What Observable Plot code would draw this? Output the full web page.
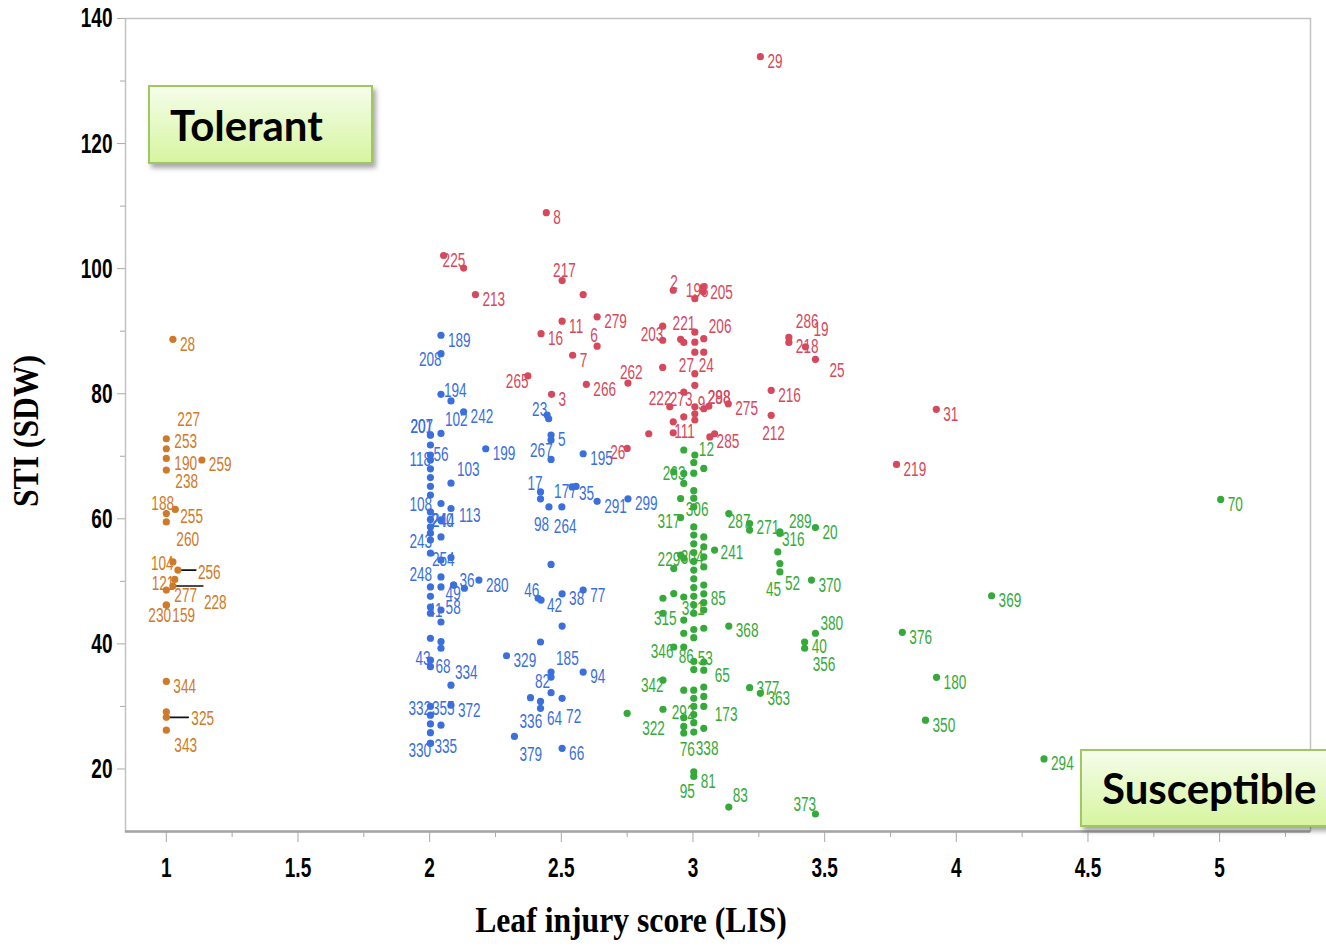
<!DOCTYPE html>
<html>
<head>
<meta charset="utf-8">
<script src="https://cdn.jsdelivr.net/npm/d3@7"></script>
<script src="https://cdn.jsdelivr.net/npm/@observablehq/plot@0.6"></script>
<style>
  html, body { margin: 0; padding: 0; background: #fff; overflow: hidden; }
  #chart { position: relative; width: 1326px; height: 946px; }
  .tag {
    position: absolute; box-sizing: border-box;
    border: 2px solid #a2c661;
    background: linear-gradient(#f5fdea, #d6f5a0);
    box-shadow: 3px 4px 5px rgba(0, 0, 0, 0.35);
    font-family: Lato, "Open Sans", sans-serif; font-weight: 700; font-size: 42px;
    color: #000; display: flex; align-items: center; white-space: nowrap;
  }
</style>
</head>
<body>
<div id="chart"></div>
<script>
// Leaf injury score (LIS) vs. salt tolerance index of shoot dry weight, STI (SDW)

// Cluster 1 (tolerant, LIS ≈ 1)
const tolerantLIS = [1.025, 1.0, 1.0, 1.0, 1.0, 1.135, 1.0, 1.034, 1.0, 1.025, 1.044, 1.032, 1.025, 1.0, 1.0, 1.0, 1.0, 1.0, 1.0, 1.0];
const tolerantSTI = [88.7, 72.8, 71.2, 69.65, 67.8, 69.4, 60.85, 61.5, 59.5, 53.1, 51.8, 50.3, 49.25, 48.6, 46.2, 46.2, 34.0, 29.15, 28.25, 26.2];
const tolerantID  = ["28", "227", "253", "190", "238", "259", "188", "255", "260", "104", "256", "121", "228", "277", "230", "159", "344", "", "325", "343"];

// Cluster 2 (moderately tolerant, lower STI at LIS 2–2.75)
const moderateLIS = [
  2.043, 2.043, 2.043, 2.081, 2.129, 2.003, 2.003, 2.043, 2.003, 2.003, 2.003, 2.003, 2.003, 2.003, 2.003,
  2.081, 2.213, 2.043, 2.081, 2.003, 2.003, 2.043, 2.043, 2.003, 2.003, 2.043, 2.003, 2.003, 2.043, 2.081,
  2.043, 2.043, 2.003, 2.003, 2.132, 2.187, 2.091, 2.091, 2.003, 2.003, 2.043, 2.043, 2.003, 2.043, 2.043,
  2.003, 2.003, 2.081, 2.003, 2.003, 2.003, 2.003, 2.003, 2.003, 2.043, 2.081,
  2.446, 2.452, 2.461, 2.461, 2.461, 2.583, 2.421, 2.421, 2.541, 2.556, 2.453, 2.502, 2.636, 2.753, 2.461,
  2.412, 2.423, 2.503, 2.583, 2.503, 2.421, 2.292, 2.461, 2.583, 2.461, 2.383, 2.421, 2.421, 2.461, 2.503,
  2.322, 2.503
];
const moderateSTI = [
  89.35, 86.4, 79.9, 78.85, 77.1, 73.4, 73.4, 73.65, 71.8, 70.2, 69.4, 68.0, 66.6, 65.2, 63.8,
  65.7, 71.2, 62.45, 61.65, 61.1, 59.9, 59.8, 59.8, 58.7, 57.7, 57.1, 56.6, 54.5, 53.4, 53.8,
  50.7, 49.1, 49.1, 47.6, 48.9, 50.2, 49.4, 49.4, 45.9, 44.9, 45.4, 43.5, 40.9, 40.35, 39.3,
  37.4, 36.35, 33.4, 30.0, 28.6, 27.2, 25.8, 24.1, 24.1, 27.0, 30.2,
  76.6, 76.0, 73.4, 72.6, 69.5, 70.4, 64.3, 63.2, 65.1, 65.2, 61.9, 61.9, 62.8, 63.2, 52.7,
  47.3, 47.0, 48.0, 48.6, 42.85, 40.3, 38.1, 35.5, 35.5, 34.7, 31.4, 30.8, 29.7, 32.2, 31.3,
  25.2, 23.3
];
const moderateID = [
  "189", "208", "194", "102", "242", "207", "201", "", "", "56", "118", "", "", "", "",
  "103", "199", "", "113", "108", "", "240", "244", "", "", "", "243", "", "254", "",
  "", "", "248", "", "36", "280", "49", "58", "41", "", "", "", "", "", "",
  "43", "68", "334", "332", "", "", "", "330", "335", "355", "372",
  "23", "", "5", "", "267", "195", "17", "", "177", "35", "98", "264", "291", "299", "",
  "46", "42", "38", "77", "", "", "329", "185", "94", "82", "", "", "336", "64", "72",
  "379", "66"
];

// Cluster 3 (high STI)
const highLIS = [
  3.256, 2.443, 2.053, 2.129, 2.174, 2.503, 2.583, 2.503, 2.636, 2.423, 2.636, 2.543, 2.373, 2.595, 2.753,
  2.463, 2.832, 2.75, 2.925, 3.007, 3.039, 3.039, 2.885, 2.885, 2.953, 2.965, 3.041, 3.007, 3.007, 3.007,
  3.041, 3.007, 3.007, 2.885, 2.912, 2.965, 3.007, 2.965, 3.007, 3.007, 3.041, 3.06, 3.134, 3.297, 3.297,
  2.925, 2.925, 3.064, 3.082, 3.364, 3.364, 3.427, 3.465, 3.924, 3.773
];
const highSTI = [
  133.9, 108.95, 102.1, 100.1, 95.85, 98.1, 95.85, 91.6, 92.3, 89.6, 87.6, 86.15, 82.85, 81.5, 81.7,
  79.9, 73.6, 71.25, 96.55, 95.2, 96.3, 97.1, 90.8, 88.55, 88.7, 88.2, 88.8, 89.85, 88.25, 86.65,
  86.65, 83.2, 81.35, 84.2, 77.9, 80.25, 77.9, 76.3, 76.8, 75.8, 77.6, 78.0, 78.4, 80.55, 76.55,
  75.5, 73.75, 73.1, 73.6, 89.0, 88.2, 87.5, 85.5, 77.5, 68.7
];
const highID = [
  "29", "8", "225", "", "213", "217", "", "11", "279", "16", "6", "7", "265", "266", "262",
  "3", "", "26", "2", "198", "205", "", "", "203", "221", "", "206", "", "", "",
  "24", "27", "", "", "222", "273", "9", "", "", "", "298", "288", "275", "216", "212",
  "", "111", "", "285", "286", "218", "19", "25", "31", "219"
];

// Cluster 4 (susceptible, LIS ≥ 2.75)
const susceptibleLIS = [
  5.004, 4.134, 3.795, 3.925, 3.883, 4.333, 3.136, 3.215, 3.215, 3.33, 3.33, 3.465, 3.322, 3.33, 3.33,
  3.45, 3.136, 3.465, 3.424, 3.424, 3.215, 3.256, 3.136, 3.465, 2.75, 2.965, 3.007,
  3.003, 3.003, 3.003, 3.003, 3.003, 3.003, 3.003, 3.003, 3.003, 3.003, 3.003, 3.003, 3.003, 3.003, 3.003,
  3.003, 3.003, 3.003, 3.003, 3.003, 3.003, 3.003, 3.003, 3.003, 3.003, 3.003, 3.003, 3.003,
  3.041, 3.041, 3.041, 3.041, 3.041, 3.041, 3.041, 3.041, 3.041, 3.041, 3.041, 3.041, 3.041, 3.041, 3.041, 3.041,
  2.965, 2.965, 2.965, 2.965, 2.965, 2.965, 2.965, 2.965, 2.965, 2.965, 2.965,
  2.953, 2.953, 2.953, 2.927, 2.927, 2.927, 2.927, 2.886, 2.886, 2.886, 2.886, 3.082
];
const susceptibleSTI = [
  63.1, 47.7, 41.85, 34.65, 27.8, 21.6, 60.85, 59.25, 58.2, 57.65, 57.9, 58.6, 54.7, 52.85, 51.5,
  50.2, 42.85, 41.7, 40.3, 39.3, 33.0, 32.1, 13.9, 12.8, 28.9, 71.0, 70.2,
  69.0, 67.3, 64.5, 63.3, 61.9, 58.7, 57.4, 56.0, 54.6, 53.2, 51.8, 50.4, 49.0, 47.6, 46.2,
  44.9, 42.3, 41.0, 37.2, 35.9, 32.6, 31.3, 30.0, 28.7, 27.4, 25.9, 19.55, 18.8,
  68.05, 57.1, 55.5, 53.9, 52.3, 49.4, 48.0, 46.6, 45.4, 42.5, 37.1, 35.8, 33.1, 31.6, 30.0, 26.5,
  67.25, 65.65, 53.7, 47.5, 43.8, 41.7, 39.5, 32.6, 28.2, 26.8, 25.75,
  63.25, 60.2, 54.2, 67.5, 52.05, 48.05, 39.5, 47.3, 44.9, 34.2, 29.55, 55.0
];
const susceptibleID = [
  "70", "369", "376", "180", "350", "294", "287", "", "271", "316", "289", "20", "", "52", "45",
  "370", "368", "380", "40", "356", "377", "363", "83", "373", "322", "", "12",
  "", "", "", "", "306", "", "", "", "304", "", "", "", "", "", "",
  "", "", "", "53", "", "", "", "", "", "", "338", "81", "95",
  "", "", "", "", "", "", "85", "", "", "", "", "65", "", "", "173", "",
  "", "", "", "321", "", "", "86", "", "292", "", "76",
  "", "317", "229", "263", "", "", "346", "", "315", "342", "", "241"
];

// Axis settings
const lisDomain = [0.845, 5.345];
const stiDomain = [10, 140];
const lisTicks = [1, 1.5, 2, 2.5, 3, 3.5, 4, 4.5, 5];
const lisMinorTicks = [1.25, 1.75, 2.25, 2.75, 3.25, 3.75, 4.25, 4.75, 5.25];
const stiTicks = [20, 40, 60, 80, 100, 120, 140];
const stiMinorTicks = [30, 50, 70, 90, 110, 130];
const xTitle = "Leaf injury score (LIS)";
const yTitle = "STI (SDW)";
const tagTolerant = "Tolerant";
const tagSusceptible = "Susceptible";

const groups = [
  {lis: tolerantLIS, sti: tolerantSTI, id: tolerantID, color: "#cf7a29"},
  {lis: moderateLIS, sti: moderateSTI, id: moderateID, color: "#3a6fdc"},
  {lis: highLIS, sti: highSTI, id: highID, color: "#d6485c"},
  {lis: susceptibleLIS, sti: susceptibleSTI, id: susceptibleID, color: "#35aa3b"}
];
const points = groups.flatMap(g => g.lis.map((lis, i) => ({lis, sti: g.sti[i], id: g.id[i], color: g.color})));

// Label placement (pixel offsets from the dot); default is just right of the dot
const labelNudge = {
  "227": [11, -19], "253": [8, -7], "190": [8, 5], "238": [9, 12], "188": [-15, -10], "255": [5, 7],
  "260": [10, 18], "104": [-22, 2], "256": [20, 2], "121": [-23, 4], "228": [31, 17], "277": [8, 5],
  "230": [-18, 10], "159": [6, 10], "325": [25, 1], "343": [8, 15],
  "208": [-22, 6], "194": [3, -4], "102": [-6, 19], "207": [-20, -8], "201": [-20, -8], "56": [3, 0],
  "118": [-21, 0], "103": [6, -14], "113": [8, 7], "108": [-21, -7], "240": [-10, 1], "244": [-9, 1],
  "243": [-21, 2], "254": [-9, 0], "248": [-21, -12], "36": [-5, -8], "49": [-8, 8], "58": [-8, 22],
  "41": [-3, 4], "43": [-15, -2], "68": [5, 0], "334": [4, -13], "332": [-22, 2], "330": [-22, 7],
  "335": [4, 3], "355": [-9, -17], "23": [-15, -5], "267": [-21, -9], "17": [-13, -8], "177": [-18, 5],
  "35": [3, 7], "98": [-15, 18], "264": [-8, 20], "46": [-14, -8], "42": [6, 5], "185": [5, -13],
  "82": [-16, 5], "336": [-21, 13], "64": [-4, 26], "72": [4, 18], "379": [5, 18],
  "225": [-1, 5], "217": [-9, -10], "6": [-7, -11], "265": [-22, 6], "262": [-8, -11], "26": [-17, 4],
  "2": [-3, -8], "198": [-9, -8], "205": [7, 1], "203": [-22, -6], "221": [-8, -16], "206": [5, -12],
  "24": [-5, 13], "27": [-16, -8], "222": [-21, -8], "273": [-14, 7], "9": [3, -3], "298": [4, -11],
  "288": [-1, -9], "212": [-9, 18], "111": [1, -1], "285": [2, 8], "286": [7, -16], "218": [7, 4],
  "19": [8, -17], "25": [14, 11],
  "287": [-1, 8], "271": [7, -2], "316": [2, 6], "289": [9, -10], "52": [5, 20], "45": [-14, 18],
  "380": [5, -10], "356": [8, 16], "377": [7, 1], "83": [4, -12], "373": [-22, -9], "322": [15, 15],
  "12": [4, -5], "306": [-8, 3], "304": [-13, 5], "53": [4, -3], "338": [2, 17], "81": [7, 10],
  "95": [-14, 15], "65": [11, 5], "173": [11, 8], "321": [-2, 12], "86": [-5, 10], "292": [-12, -5],
  "76": [-4, 17], "317": [-23, 4], "229": [-23, 5], "263": [-11, 2], "346": [-23, 5], "315": [-9, 5],
  "342": [-22, 5], "241": [6, 3]
};
// Short leader lines (pixel length) joining crowded dots to their labels
const leaderLength = {"256": 18, "228": 30, "325": 22};

// Fonts; the sans and serif texts are narrowed horizontally after rendering
const sans = "'Liberation Sans', Arial, sans-serif";
const serif = "'Liberation Serif', 'Times New Roman', serif";
const sansSqueeze = 0.68;
const tickSqueeze = 0.68;
const serifSqueeze = 0.88;
const axisGray = "#a9a9a9";

const leaderShape = {
  draw(context, l) { context.moveTo(0, 0); context.lineTo(0, -l); }
};

const leaderMarks = points.filter(d => leaderLength[d.id]).map(d =>
  Plot.vector([d], {x: "lis", y: "sti", length: leaderLength[d.id], rotate: 90, anchor: "start",
    shape: leaderShape, stroke: "#111", strokeWidth: 1.6})
);

const labelMarks = points.filter(d => d.id).map(d => {
  const [dx, dy] = labelNudge[d.id] ?? [7, 5];
  return Plot.text([d], {x: "lis", y: "sti", text: "id", dx, dy, textAnchor: "start",
    fill: d.color, fontFamily: sans, fontSize: 20});
});

const dotMarks = groups.map(g =>
  Plot.dot(points.filter(d => d.color === g.color), {x: "lis", y: "sti", r: 3.6, fill: g.color, stroke: "none"})
);

const chart = Plot.plot({
  width: 1326,
  height: 946,
  marginLeft: 125,
  marginRight: 16,
  marginTop: 18,
  marginBottom: 115,
  x: {domain: lisDomain},
  y: {domain: stiDomain},
  style: {background: "white", overflow: "visible"},
  marks: [
    Plot.frame({stroke: "#c2c2c2", strokeWidth: 1.5}),
    Plot.ruleY([stiDomain[0]], {stroke: "#a4a4a4", strokeWidth: 2.5}),
    Plot.axisY({ticks: stiMinorTicks, tickSize: 5, tickFormat: () => "", stroke: axisGray, label: null}),
    Plot.axisY({ticks: stiTicks, tickSize: 8, tickPadding: 5, stroke: axisGray, fill: "#000",
      fontFamily: sans, fontWeight: "bold", fontSize: 28, label: null}),
    Plot.axisX({ticks: lisMinorTicks, tickSize: 6, tickFormat: () => "", stroke: axisGray, label: null}),
    Plot.axisX({ticks: lisTicks, tickSize: 11, tickPadding: 15, tickFormat: d => String(d), stroke: axisGray, fill: "#000",
      fontFamily: sans, fontWeight: "bold", fontSize: 28, label: null}),
    Plot.text([yTitle], {text: d => d, frameAnchor: "left", textAnchor: "middle", rotate: -90, dx: -99, dy: 6,
      fontFamily: serif, fontWeight: "bold", fontSize: 36, fill: "#000"}),
    Plot.text([xTitle], {text: d => d, frameAnchor: "bottom", textAnchor: "middle", dx: -87, dy: 100,
      fontFamily: serif, fontWeight: "bold", fontSize: 36, fill: "#000"}),
    ...leaderMarks,
    ...labelMarks,
    ...dotMarks
  ]
});

// Narrow the glyphs of each text about its own anchor point
chart.querySelectorAll("text").forEach(t => {
  const owner = t.closest("[font-family]");
  const fam = owner ? owner.getAttribute("font-family") : "";
  const bold = (owner && owner.getAttribute("font-weight")) === "bold";
  const s = fam.includes("Serif") ? serifSqueeze : fam.includes("Liberation Sans") ? (bold ? tickSqueeze : sansSqueeze) : 1;
  if (s === 1) return;
  const x = parseFloat(t.getAttribute("x")) || 0;
  const prev = t.getAttribute("transform") || "";
  t.setAttribute("transform", `${prev} translate(${x},0) scale(${s},1) translate(${-x},0)`);
});

const host = document.getElementById("chart");
host.append(chart);

// Group annotations drawn over the plot area
function addTag(text, left, top, width, height) {
  const div = document.createElement("div");
  div.className = "tag";
  div.textContent = text;
  Object.assign(div.style, {left: left + "px", top: top + "px", width: width + "px", height: height + "px", paddingLeft: "20px"});
  host.append(div);
}
addTag(tagTolerant, 148, 85, 225, 79);
addTag(tagSusceptible, 1080, 749, 270, 78);
</script>
</body>
</html>
